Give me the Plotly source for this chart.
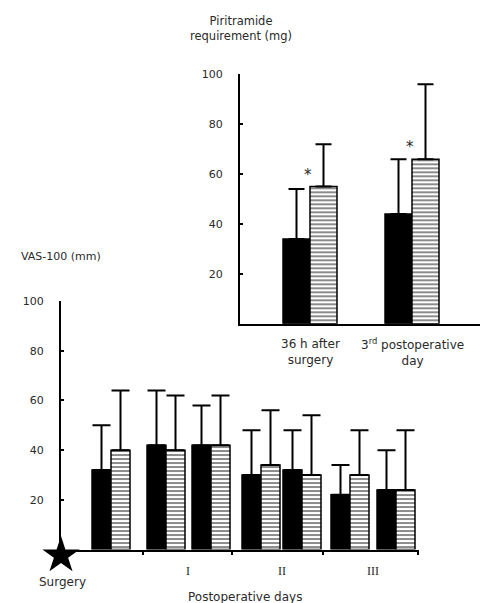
import plotly.graph_objects as go

W, H = 487, 603

# ---- Data: VAS-100 (mm), bottom chart ----
vas_black = [32, 42, 42, 30, 32, 22, 24]
vas_black_sd_top = [50, 64, 58, 48, 48, 34, 40]
vas_hatch = [40, 40, 42, 34, 30, 30, 24]
vas_hatch_sd_top = [64, 62, 62, 56, 54, 48, 48]
day_labels = ["I", "II", "III"]
surgery_label = "Surgery"
surgery_time = [0]

# ---- Data: Piritramide requirement (mg), inset ----
pir_categories = ["36 h after<br>surgery", "3<sup>rd</sup> postoperative<br>day"]
pir_black = [34, 44]
pir_black_sd_top = [54, 66]
pir_hatch = [55, 66]
pir_hatch_sd_top = [72, 96]
pir_signif = ["*", "*"]
y_ticks = [20, 40, 60, 80, 100]

# ---- Layout positions (pixel-based axis units) ----
vas_pos = [50, 105, 150, 200, 241, 289, 335]     # pair centres along bottom axis
vas_bw = 19
day_tick_pos = [82, 171, 262, 357]
day_label_pos = [127, 221, 312]
pir_pos = [70, 172]
pir_bw = 27

FONT = "DejaVu Sans, Verdana, sans-serif"
SERIF = "Liberation Serif, Times New Roman, serif"
TXT = "#2a2a2a"

# bottom axis geometry (pixels)
B_BASE, B_TOP = 549, 298
B_PX_PER_UNIT = (B_BASE - B_TOP) / 100.0


def err(tops, vals):
    return [t - v for t, v in zip(tops, vals)]


fig = go.Figure()

pattern = dict(shape="-", size=4, solidity=0.45, fgcolor="black", bgcolor="white")

# bottom chart
fig.add_trace(go.Bar(
    x=vas_pos, y=vas_black, width=vas_bw, offset=-vas_bw,
    marker=dict(color="black", line=dict(color="black", width=1.5)),
    error_y=dict(type="data", symmetric=False, array=err(vas_black_sd_top, vas_black),
                 arrayminus=[0] * len(vas_black), color="black", thickness=2, width=9),
    xaxis="x", yaxis="y", showlegend=False))
fig.add_trace(go.Bar(
    x=vas_pos, y=vas_hatch, width=vas_bw, offset=0,
    marker=dict(color="white", pattern=pattern, line=dict(color="black", width=1.5)),
    error_y=dict(type="data", symmetric=False, array=err(vas_hatch_sd_top, vas_hatch),
                 arrayminus=[0] * len(vas_hatch), color="black", thickness=2, width=9),
    xaxis="x", yaxis="y", showlegend=False))

# surgery star (on an invisible y axis that extends below the baseline)
fig.add_trace(go.Scatter(
    x=surgery_time, y=[-2.4], mode="markers",
    marker=dict(symbol="star", size=28, color="black", line=dict(width=0)),
    cliponaxis=False, xaxis="x", yaxis="y3", showlegend=False, hoverinfo="skip"))

# inset chart
fig.add_trace(go.Bar(
    x=pir_pos, y=pir_black, width=pir_bw, offset=-pir_bw,
    marker=dict(color="black", line=dict(color="black", width=1.5)),
    error_y=dict(type="data", symmetric=False, array=err(pir_black_sd_top, pir_black),
                 arrayminus=[0] * len(pir_black), color="black", thickness=2, width=8),
    xaxis="x2", yaxis="y2", showlegend=False))
fig.add_trace(go.Bar(
    x=pir_pos, y=pir_hatch, width=pir_bw, offset=0,
    marker=dict(color="white", pattern=pattern, line=dict(color="black", width=1.5)),
    error_y=dict(type="data", symmetric=False, array=err(pir_hatch_sd_top, pir_hatch),
                 arrayminus=[0] * len(pir_hatch), color="black", thickness=2, width=8),
    xaxis="x2", yaxis="y2", showlegend=False))

ytick_common = dict(
    range=[0, 100], tickvals=y_ticks, ticks="inside", ticklen=3, tickwidth=1.5,
    tickcolor="black", showline=True, linecolor="black", linewidth=2,
    showgrid=False, zeroline=False, ticklabelstandoff=13,
    tickfont=dict(family=FONT, size=11, color=TXT),
)

y3_bottom = -(H - B_BASE) / B_PX_PER_UNIT

fig.update_layout(
    width=W, height=H, margin=dict(l=0, r=0, t=0, b=0),
    paper_bgcolor="white", plot_bgcolor="rgba(0,0,0,0)",
    barmode="overlay",
    xaxis=dict(domain=[61 / W, 419 / W], range=[0, 358], showline=True, linecolor="black",
               linewidth=2, tickvals=day_tick_pos, showticklabels=False,
               ticks="outside", ticklen=3, tickwidth=2, tickcolor="black",
               showgrid=False, zeroline=False, anchor="y"),
    yaxis=dict(domain=[(H - B_BASE) / H, (H - B_TOP) / H], anchor="x", **ytick_common),
    yaxis3=dict(domain=[0, (H - B_TOP) / H], range=[y3_bottom, 100], visible=False,
                anchor="x", fixedrange=True),
    xaxis2=dict(domain=[240 / W, 480 / W], range=[0, 240], showline=True, linecolor="black",
                linewidth=2, showticklabels=False, ticks="", showgrid=False,
                zeroline=False, anchor="y2"),
    yaxis2=dict(domain=[(H - 321) / H, (H - 69) / H], anchor="x2", **ytick_common),
)

def txt(x, xref, y, text, size, family=FONT):
    return dict(x=x, xref=xref, y=y, yref="paper", text=text, showarrow=False,
                xanchor="center", yanchor="middle",
                font=dict(family=family, size=size, color=TXT))

ann = []
for lab, p in zip(day_labels, day_label_pos):
    ann.append(txt(p, "x", (H - 571) / H, lab, 12, SERIF))
ann.append(txt(62 / W, "paper", (H - 582) / H, surgery_label, 12))
ann.append(txt(245 / W, "paper", (H - 597) / H, "Postoperative days", 12))
ann.append(txt(61 / W, "paper", (H - 253) / H, "VAS-100 (mm)", 11))
ann.append(txt(241 / W, "paper", (H - 23) / H, "Piritramide<br>requirement (mg)", 11.5))
for lab, p in zip(pir_categories, pir_pos):
    ann.append(txt(p, "x2", (H - 349) / H, lab, 12))
for s, p, v in zip(pir_signif, pir_pos, pir_hatch):
    ann.append(dict(x=p - 2, xref="x2", y=v, yref="y2", text=s, showarrow=False,
                    xanchor="center", yanchor="middle", yshift=12,
                    font=dict(family=FONT, size=15, color=TXT)))

fig.update_layout(annotations=ann)

fig.write_html("out.html")
